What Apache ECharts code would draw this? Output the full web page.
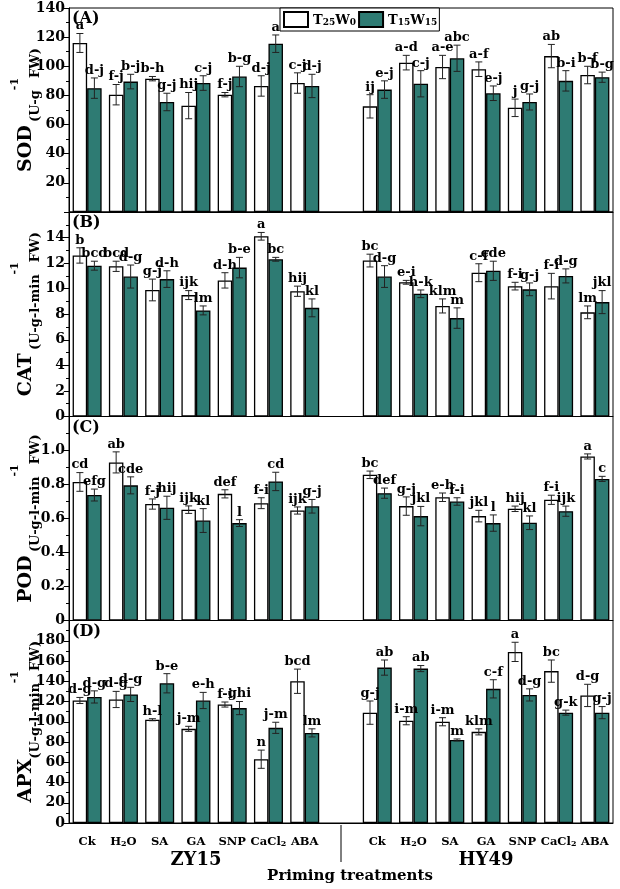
<!DOCTYPE html>
<html>
<head>
<meta charset="utf-8">
<script src="https://cdn.jsdelivr.net/npm/echarts@6/dist/echarts.min.js"></script>
<style>html,body{margin:0;padding:0;background:#fff}#c{width:620px;height:889px}</style>
</head>
<body>
<div id="c"></div>
<script>
// ---------- data ----------
const cultivars = ['ZY15', 'HY49'];
const treatments = ['Ck', 'H2O', 'SA', 'GA', 'SNP', 'CaCl2', 'ABA'];
const seriesNames = ['T25W0', 'T15W15'];

// SOD (U g-1 FW)
const sodWhite    = [116, 80.5, 91.5, 73, 80.5, 86.5, 88.5, 72.5, 102.5, 99.5, 98, 71.5, 107, 94];
const sodWhiteErr = [6.5, 7, 1.5, 9, 1.5, 7, 7, 8, 5, 8, 5, 6, 8, 6];
const sodWhiteSig = ['a','f-j','b-h','hij','f-j','d-j','c-j','ij','a-d','a-e','a-f','j','ab','b-f'];
const sodTeal     = [85, 89.5, 75.5, 88.5, 93, 115.5, 86.5, 84, 88, 105.5, 81.5, 75.5, 90, 92.5];
const sodTealErr  = [7, 5, 6, 5, 7, 6, 8, 6, 9, 9, 5, 5.5, 7, 3.5];
const sodTealSig  = ['d-j','b-j','g-j','c-j','b-g','a','d-j','e-j','c-j','abc','e-j','g-j','b-i','b-g'];

// CAT
const catWhite    = [12.6, 11.75, 9.9, 9.5, 10.65, 14.1, 9.8, 12.2, 10.5, 8.65, 11.25, 10.2, 10.2, 8.15];
const catWhiteErr = [0.6, 0.4, 0.85, 0.35, 0.6, 0.3, 0.4, 0.5, 0.15, 0.55, 0.7, 0.3, 1.0, 0.5];
const catWhiteSig = ['b','bcd','g-j','ijk','d-h','a','hij','bc','e-i','klm','c-f','f-i','f-i','lm'];
const catTeal     = [11.8, 10.95, 10.75, 8.3, 11.65, 12.3, 8.5, 10.95, 9.6, 7.7, 11.4, 9.95, 11.0, 8.95];
const catTealErr  = [0.35, 0.9, 0.65, 0.35, 0.8, 0.15, 0.7, 0.85, 0.3, 0.8, 0.75, 0.5, 0.55, 0.9];
const catTealSig  = ['bcd','d-g','d-h','lm','b-e','bc','kl','d-g','h-k','m','cde','g-j','d-g','jkl'];

// POD
const podWhite    = [0.815, 0.93, 0.685, 0.652, 0.745, 0.69, 0.647, 0.857, 0.673, 0.725, 0.614, 0.657, 0.71, 0.965];
const podWhiteErr = [0.055, 0.062, 0.03, 0.022, 0.024, 0.032, 0.021, 0.022, 0.054, 0.025, 0.034, 0.016, 0.027, 0.015];
const podWhiteSig = ['cd','ab','f-j','ijk','def','f-i','ijk','bc','g-j','e-h','jkl','hij','f-i','a'];
const podTeal     = [0.738, 0.795, 0.663, 0.588, 0.573, 0.818, 0.672, 0.749, 0.614, 0.7, 0.573, 0.575, 0.643, 0.833];
const podTealErr  = [0.035, 0.05, 0.068, 0.07, 0.02, 0.054, 0.04, 0.03, 0.057, 0.022, 0.048, 0.04, 0.03, 0.015];
const podTealSig  = ['efg','cde','hij','kl','l','cd','g-j','def','jkl','f-i','l','kl','ijk','c'];

// APX
const apxWhite    = [121, 122, 102, 93, 117, 63, 140, 109, 101, 100, 90, 169, 150, 126];
const apxWhiteErr = [3, 8, 1, 2.5, 2.5, 9, 12, 11.5, 4, 4, 3, 9.5, 11, 11];
const apxWhiteSig = ['d-g','d-g','h-l','j-m','f-i','n','bcd','g-j','i-m','i-m','klm','a','bc','d-g'];
const apxTeal     = [124.5, 127, 138, 121, 113.5, 94, 89, 153.5, 152.5, 82, 132.5, 126.5, 109, 109];
const apxTealErr  = [6, 7, 9.5, 8, 6.5, 5.5, 4, 7.5, 3, 1, 9, 6, 2.5, 6];
const apxTealSig  = ['d-g','d-g','b-e','e-h','ghi','j-m','lm','ab','ab','m','c-f','d-g','g-k','g-j'];

// y-axis tick settings: [min, max, interval]
const sodTicks = [0, 140, 20];
const catTicks = [0, 16, 2];
const podTicks = [0, 1.2, 0.2];
const apxTicks = [0, 200, 20];

// ---------- build ----------
const FONT = '"DejaVu Serif", "Liberation Serif", serif';
const TEAL = '#2e7b73';
const categories = [];
cultivars.forEach((cv, k) => {
  treatments.forEach(t => categories.push(cv + '|' + t));
  if (k === 0) categories.push('gap');
});
const pos = i => (i < 7 ? i : i + 1);
const toFull = arr => [...arr.slice(0, 7), '-', ...arr.slice(7)];

const panels = [
  {w: sodWhite, we: sodWhiteErr, ws: sodWhiteSig, t: sodTeal, te: sodTealErr, ts: sodTealSig, ticks: sodTicks,
   name: '{b|SOD} {p|(U-g}{sup|-1}{p|FW)}', label: '(A)'},
  {w: catWhite, we: catWhiteErr, ws: catWhiteSig, t: catTeal, te: catTealErr, ts: catTealSig, ticks: catTicks,
   name: '{b|CAT} {p|(U-g-l-min}{sup|-1}{p|FW)}', label: '(B)'},
  {w: podWhite, we: podWhiteErr, ws: podWhiteSig, t: podTeal, te: podTealErr, ts: podTealSig, ticks: podTicks,
   name: '{b|POD} {p|(U-g-l-min}{sup|-1}{p|FW)}', label: '(C)'},
  {w: apxWhite, we: apxWhiteErr, ws: apxWhiteSig, t: apxTeal, te: apxTealErr, ts: apxTealSig, ticks: apxTicks,
   name: '{b|APX}{p|(U-g-l-min}{sup|-1}{p|FW)}', label: '(D)'}
];

const gridTops = [8, 212, 416.5, 620.5];
const gridHeights = [204, 204.5, 204, 202.5];
const GL = 69, GR = 7;

const grid = [], xAxis = [], yAxis = [], series = [];

function errRender(sign, sigs) {
  return function (params, api) {
    const ci = api.value(0), v = api.value(1), e = api.value(2);
    const band = api.size([1, 0])[0];
    const bw = band * 0.8 / 2;
    const c = api.coord([ci, v]);
    const cx = c[0] + sign * bw / 2;
    const yT = api.coord([ci, v + e])[1];
    const yB = api.coord([ci, v - e])[1];
    const cap = 3.5;
    const st = {stroke: '#222', lineWidth: 1};
    return {
      type: 'group',
      children: [
        {type: 'line', shape: {x1: cx, y1: yT, x2: cx, y2: yB}, style: st},
        {type: 'line', shape: {x1: cx - cap, y1: yT, x2: cx + cap, y2: yT}, style: st},
        {type: 'line', shape: {x1: cx - cap, y1: yB, x2: cx + cap, y2: yB}, style: st},
        {type: 'text', x: cx, y: yT - 1,
         style: {text: sigs[params.dataIndex], align: 'center', verticalAlign: 'bottom',
                 font: 'bold 13px ' + FONT, fill: '#000'}}
      ]
    };
  };
}

panels.forEach((p, gi) => {
  grid.push({left: GL, right: GR, top: gridTops[gi], height: gridHeights[gi],
             containLabel: false, outerBoundsMode: 'none',
             show: true, borderColor: '#000', borderWidth: 1, backgroundColor: 'transparent'});
  const last = gi === 3;
  xAxis.push({
    type: 'category', gridIndex: gi, data: categories, boundaryGap: true,
    axisLine: {show: true, lineStyle: {color: '#000', width: 1}},
    axisTick: {show: false},
    axisLabel: last ? {
      show: true, margin: 9, interval: 0,
      formatter: function (val) {
        if (val === 'gap') return '';
        const t = val.split('|')[1];
        if (t === 'H2O') return '{n|H}{s|2}{n|O}';
        if (t === 'CaCl2') return '{n|CaCl}{s|2}';
        return '{n|' + t + '}';
      },
      rich: {
        n: {fontFamily: FONT, fontWeight: 'bold', fontSize: 11.5, color: '#000', lineHeight: 16, verticalAlign: 'bottom'},
        s: {fontFamily: FONT, fontWeight: 'bold', fontSize: 8, color: '#000', lineHeight: 12, verticalAlign: 'bottom'}
      }
    } : {show: false},
    splitLine: {show: false}
  });
  yAxis.push({
    type: 'value', gridIndex: gi, min: p.ticks[0], max: p.ticks[1], interval: p.ticks[2],
    axisLine: {show: true, lineStyle: {color: '#000', width: 1}},
    axisTick: {show: true, inside: false, length: 5, lineStyle: {color: '#000'}},
    minorTick: {show: true, splitNumber: 2, length: 3, lineStyle: {color: '#000'}},
    splitLine: {show: false},
    axisLabel: {
      show: true, margin: 4, color: '#000', fontFamily: FONT, fontWeight: 'bold', fontSize: 14,
      showMinLabel: gi !== 0, showMaxLabel: gi === 0,
      formatter: function (v) { return gi === 2 ? (v === 0 ? '0' : v.toFixed(1)) : String(Math.round(v)); }
    },
    name: p.name, nameLocation: 'middle', nameGap: 27, nameRotate: 90, nameMoveOverlap: false,
    nameTextStyle: {
      color: '#000',
      rich: {
        b: {fontFamily: FONT, fontWeight: 'bold', fontSize: 19, lineHeight: 32, verticalAlign: 'middle', color: '#000'},
        p: {fontFamily: FONT, fontWeight: 'bold', fontSize: 13, lineHeight: 16, verticalAlign: 'bottom', color: '#000'},
        sup: {fontFamily: FONT, fontWeight: 'bold', fontSize: 11, lineHeight: 24, verticalAlign: 'top', color: '#000'}
      }
    }
  });
  series.push({
    type: 'bar', name: seriesNames[0], xAxisIndex: gi, yAxisIndex: gi, data: toFull(p.w),
    barGap: '0%', barCategoryGap: '20%',
    itemStyle: {color: '#ffffff', borderColor: '#000', borderWidth: 1.3}
  });
  series.push({
    type: 'bar', name: seriesNames[1], xAxisIndex: gi, yAxisIndex: gi, data: toFull(p.t),
    barGap: '0%', barCategoryGap: '20%',
    itemStyle: {color: TEAL, borderColor: '#000', borderWidth: 1.3}
  });
  series.push({
    type: 'custom', name: seriesNames[0], xAxisIndex: gi, yAxisIndex: gi, z: 5, clip: false,
    renderItem: errRender(-1, p.ws),
    data: p.w.map((v, i) => [pos(i), v, p.we[i]]), encode: {x: 0, y: 1}
  });
  series.push({
    type: 'custom', name: seriesNames[1], xAxisIndex: gi, yAxisIndex: gi, z: 5, clip: false,
    renderItem: errRender(1, p.ts),
    data: p.t.map((v, i) => [pos(i), v, p.te[i]]), encode: {x: 0, y: 1}
  });
});

const chart = echarts.init(document.getElementById('c'), null, {renderer: 'canvas'});
chart.setOption({
  animation: false,
  backgroundColor: '#fff',
  grid, xAxis, yAxis, series,
  legend: {
    data: seriesNames, left: 280, top: 8, orient: 'horizontal',
    itemWidth: 24, itemHeight: 15, itemGap: 2, icon: 'rect',
    padding: [3, 2, 3, 3], borderColor: '#000', borderWidth: 1, backgroundColor: '#fff',
    formatter: function (n) {
      return n === 'T25W0' ? '{t|T}{s|25}{t|W}{s|0}' : '{t|T}{s|15}{t|W}{s|15}';
    },
    textStyle: {
      rich: {
        t: {fontFamily: FONT, fontWeight: 'bold', fontSize: 13, color: '#000', lineHeight: 16, verticalAlign: 'bottom'},
        s: {fontFamily: FONT, fontWeight: 'bold', fontSize: 9, color: '#000', lineHeight: 12, verticalAlign: 'bottom'}
      }
    }
  }
});

// annotations
const graphic = [];
panels.forEach((p, gi) => {
  graphic.push({type: 'text', left: GL + 3, top: gridTops[gi] + 3,
    style: {text: p.label, font: 'bold 16px ' + FONT, fill: '#000'}});
});
const xZY = chart.convertToPixel({xAxisIndex: 3}, 3);
const xHY = chart.convertToPixel({xAxisIndex: 3}, 11);
const xMid = chart.convertToPixel({xAxisIndex: 3}, 7);
const yBase = gridTops[3] + gridHeights[3];
graphic.push({type: 'text', x: xZY, y: yBase + 37,
  style: {text: cultivars[0], font: 'bold 18px ' + FONT, fill: '#000', align: 'center', verticalAlign: 'middle'}});
graphic.push({type: 'text', x: xHY, y: yBase + 37,
  style: {text: cultivars[1], font: 'bold 18px ' + FONT, fill: '#000', align: 'center', verticalAlign: 'middle'}});
graphic.push({type: 'text', x: xMid + 9, y: yBase + 53,
  style: {text: 'Priming treatments', font: 'bold 15px ' + FONT, fill: '#000', align: 'center', verticalAlign: 'middle'}});
graphic.push({type: 'line', shape: {x1: xMid, y1: yBase + 2, x2: xMid, y2: yBase + 39},
  style: {stroke: '#000', lineWidth: 1}});
chart.setOption({graphic});
</script>
</body>
</html>
